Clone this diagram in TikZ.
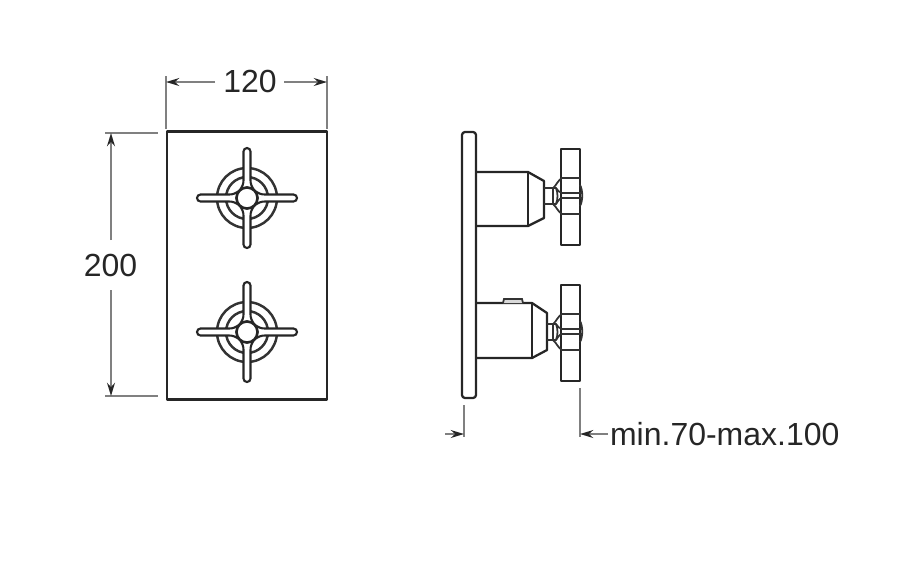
\documentclass[tikz,border=0pt]{standalone}
\usepackage{fontspec}
\setmainfont{Liberation Sans}
\usetikzlibrary{arrows.meta,positioning}

\begin{document}
\begin{tikzpicture}
    [
      x=0.02cm,y=-0.02cm,
      outline/.style={line width=1.3pt,draw=black!85,line join=round},
      thin outline/.style={line width=1pt,draw=black!80},
      ring/.style={line width=1.4pt,draw=black!80},
      arm/.style={line width=1.2pt,draw=black!85,fill=white},
      hub/.style={circle,minimum size=12pt,inner sep=0pt,line width=1.5pt,draw=black!85,fill=white},
      extension/.style={line width=1.1pt,draw=black!50},
      dim/.style={line width=1.1pt,draw=black!50,-{Stealth[black!85,length=7.5pt,width=4.5pt]}},
      measure/.style={font=\fontsize{18.2pt}{20pt}\selectfont,text=black!85,inner sep=1pt},
    ]

    \useasboundingbox (0,0) rectangle (900,566);

    % front plate
    \coordinate (plate-nw) at (167,131);
    \coordinate (plate-se) at (327,399);
    \draw [outline,line width=1.7pt] (plate-nw) rectangle (plate-se);

    % front knobs
    \foreach \name/\cy in {knob-top/198,knob-bottom/332} {
      \coordinate (\name) at (247,\cy);
      \draw [ring] (\name) circle (30);
      \draw [ring] (\name) circle (21);
      \foreach \a in {0,90,180,270} {
        \begin{scope}[shift={(\name)},rotate=\a]
          \draw [arm] (8,-7) .. controls (12,-4.5) and (14,-3.5) .. (18,-3.5) -- (46.5,-3.5)
            arc (-90:90:3.5) -- (18,3.5) .. controls (14,3.5) and (12,4.5) .. (8,7) -- cycle;
        \end{scope}
      }
      \node (\name-hub) [hub] at (\name) {};
    }

    % side plate
    \draw [outline] (462,135) arc (180:270:3) -- (473,132) arc (270:360:3)
      -- (476,395) arc (0:90:3) -- (465,398) arc (90:180:3) -- cycle;

    % side bodies
    \draw [outline] (476,172) -- (528,172) -- (544,181) -- (544,218) -- (528,226) -- (476,226);
    \draw [outline] (528,172) -- (528,226);
    \draw [outline] (476,303) -- (532,303) -- (547,313) -- (547,350) -- (532,358) -- (476,358);
    \draw [outline] (532,303) -- (532,358);
    \draw [thin outline,fill=black!15] (503,303) -- (504,299) -- (522,299) -- (523,303);

    % side handles
    \foreach \nx/\cy/\top in {544/196/149,547/332/285} {
      \draw [outline] (561,\top) rectangle (580,\top+96);
      \draw [thin outline] (\nx,\cy-8) -- (553,\cy-8) -- (553,\cy+8) -- (\nx,\cy+8);
      \draw [thin outline] (553,\cy-8) .. controls (556,\cy-10) and (558,\cy-16) .. (562,\cy-18) -- (580,\cy-18);
      \draw [thin outline] (553,\cy+8) .. controls (556,\cy+10) and (558,\cy+16) .. (562,\cy+18) -- (580,\cy+18);
      \draw [thin outline] (553,\cy-8) -- (556,\cy-8) .. controls (558,\cy-6) and (559,\cy-3) .. (562,\cy-3) -- (582,\cy-3);
      \draw [thin outline] (553,\cy+8) -- (556,\cy+8) .. controls (558,\cy+6) and (559,\cy+2) .. (562,\cy+2) -- (582,\cy+2);
      \draw [thin outline] (556,\cy-8) .. controls (558,\cy-3) and (558,\cy+3) .. (556,\cy+8);
      \draw [thin outline] (580,\cy-11) .. controls (583,\cy-6) and (583,\cy+5) .. (580,\cy+10);
    }

    % width dimension
    \node (width-label) [measure] at (250,81) {120};
    \coordinate (width-l) at (166,82);
    \coordinate (width-r) at (327,82);
    \draw [extension] (166,76) -- (166,129);
    \draw [extension] (327,76) -- (327,129);
    \draw [dim] (215,82) -- (width-l);
    \draw [dim] (284,82) -- (width-r);

    % height dimension
    \node (height-label) [measure] at (110.5,265) {200};
    \coordinate (height-t) at (111,133);
    \coordinate (height-b) at (111,396);
    \draw [extension] (105,133) -- (158,133);
    \draw [extension] (105,396) -- (158,396);
    \draw [dim] (111,240) -- (height-t);
    \draw [dim] (111,290) -- (height-b);

    % depth dimension
    \node (depth-label) [measure,anchor=west] at (608,434) {min.70-max.100};
    \coordinate (depth-l) at (464,434);
    \coordinate (depth-r) at (580,434);
    \draw [extension] (464,405) -- (464,437);
    \draw [extension] (580,388) -- (580,437);
    \draw [dim] (445,434) -- (depth-l);
    \draw [dim] (depth-label) -- (depth-r);

\end{tikzpicture}
\end{document}
